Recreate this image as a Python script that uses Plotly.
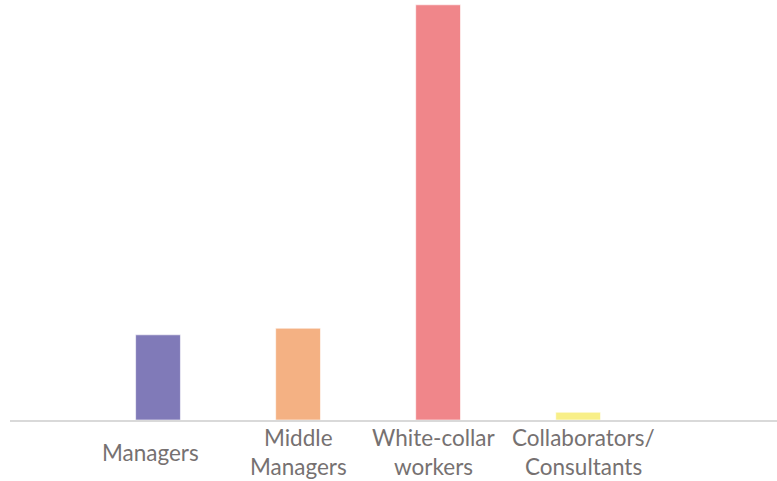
import plotly.graph_objects as go

# Share of staff by role (percent)
categories = ["Managers", "Middle Managers", "White-collar workers", "Collaborators/Consultants"]
label_lines = [["Managers"], ["Middle", "Managers"], ["White-collar", "workers"], ["Collaborators/", "Consultants"]]
values = [14.2, 15.3, 69.2, 1.3]
colors = ["#807AB8", "#F4B183", "#F0868A", "#F8EF88"]

x_pos = list(range(len(categories)))

fig = go.Figure(
    go.Bar(
        x=x_pos,
        y=values,
        width=0.32,
        marker=dict(color=colors, line=dict(color="rgba(255,255,255,0.6)", width=1)),
        hoverinfo="skip",
    )
)

# Category labels, centred vertically under each bar
font = dict(family="Lato, 'Open Sans', sans-serif", size=22.5, color="#767171")
label_xshift = [-8, 0, -5, 5]
line_gap = 29 / 420  # line spacing in paper units
centre_y = -32 / 420
annotations = []
for xi, lines, dx in zip(x_pos, label_lines, label_xshift):
    n = len(lines)
    for k, text in enumerate(lines):
        annotations.append(dict(
            x=xi, xref="x", y=centre_y + ((n - 1) / 2 - k) * line_gap, yref="paper",
            text=text, showarrow=False, xanchor="center", yanchor="middle",
            xshift=dx, font=font,
        ))

fig.update_layout(
    width=777, height=481,
    margin=dict(l=10, r=0, t=0, b=61),
    paper_bgcolor="white", plot_bgcolor="white",
    showlegend=False,
    xaxis=dict(
        range=[-1.057, 4.42], showticklabels=False, showgrid=False, zeroline=False,
        showline=True, linecolor="#D9D9D9", linewidth=1.5, ticks="",
    ),
    yaxis=dict(range=[0, 70], visible=False, showgrid=False, zeroline=False),
    annotations=annotations,
)

fig.write_html("out.html")
